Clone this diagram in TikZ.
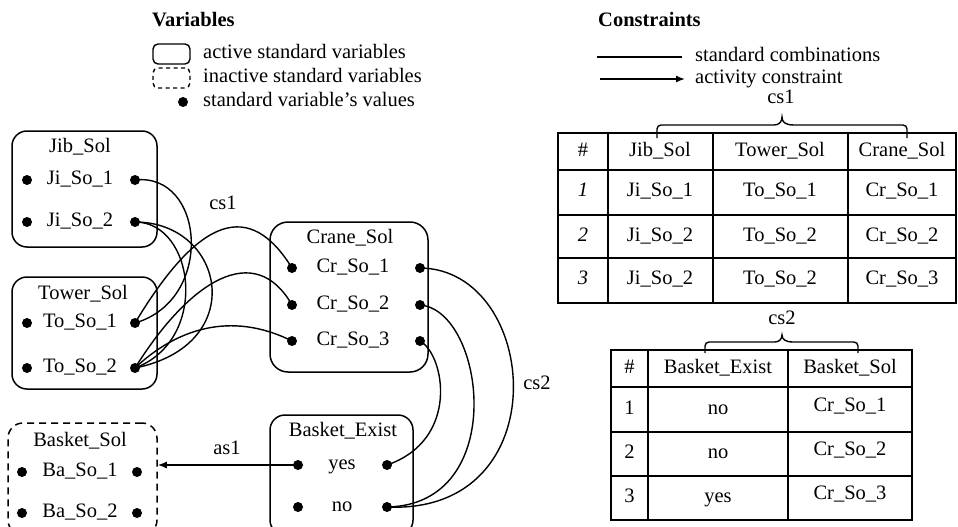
\documentclass[tikz,border=0pt]{standalone}
\usepackage{fontspec}
\setmainfont{Liberation Serif}
\usetikzlibrary{arrows.meta}
\begin{document}
\begin{tikzpicture}[x=1pt,y=-1pt,
  txt/.style={font=\fontsize{20.5}{24}\selectfont, inner sep=0pt, text height=14pt, text depth=5pt},
  hd/.style={txt, font=\fontsize{20.5}{24}\selectfont\bfseries},
  dot/.style={circle, fill=black, inner sep=0pt, minimum size=10pt},
  varbox/.style={draw, line width=1.5pt, rounded corners=15pt, inner sep=0pt},
  inbox/.style={varbox, dash pattern=on 7pt off 5pt},
  link/.style={line width=1.4pt},
  grid/.style={line width=1.6pt},
  bracepath/.style={line width=1.4pt},
  act/.style={line width=1.4pt, -{Latex[length=9pt,width=7pt]}},
]
\useasboundingbox (0,0) rectangle (958,527);

% ---------- legend: variables ----------
\node[hd, anchor=west] (hvar) at (152,22) {Variables};
\node[draw, line width=1.4pt, rounded corners=5pt, minimum width=37pt, minimum height=20pt, inner sep=0pt] (lgact) at (171.5,54) {};
\node[draw, line width=1.4pt, rounded corners=5pt, dash pattern=on 4pt off 3.5pt, minimum width=37pt, minimum height=20pt, inner sep=0pt] (lgin) at (171.5,78) {};
\node[dot] (lgdot) at (183,102) {};
\node[txt, anchor=west] (tact) at (203,54) {active standard variables};
\node[txt, anchor=west] (tin) at (203,78) {inactive standard variables};
\node[txt, anchor=west] (tval) at (203,102) {standard variable’s values};

% ---------- legend: constraints ----------
\node[hd, anchor=west] (hcon) at (598,22) {Constraints};
\coordinate (lsa) at (597,57);
\coordinate (lsb) at (682,57);
\draw[link] (lsa) -- (lsb);
\node[txt, anchor=west] (tstd) at (695,57) {standard combinations};
\coordinate (laa) at (600,79);
\coordinate (lab) at (685,79);
\draw[act] (laa) -- (lab);
\node[txt, anchor=west] (tactc) at (695,79) {activity constraint};

% ---------- variable boxes ----------
\node[varbox, minimum width=145pt, minimum height=116pt] (jib) at (84.5,189) {};
\node[txt] (jibt) at (80,148) {Jib\_Sol};
\node[dot] (j1l) at (27,180) {}; \node[txt] (j1t) at (80,180) {Ji\_So\_1}; \node[dot] (j1r) at (135,180) {};
\node[dot] (j2l) at (27,222) {}; \node[txt] (j2t) at (80,222) {Ji\_So\_2}; \node[dot] (j2r) at (135,222) {};

\node[varbox, minimum width=145pt, minimum height=112pt] (tow) at (84.5,333) {};
\node[txt] (towt) at (83,295) {Tower\_Sol};
\node[dot] (t1l) at (27,323) {}; \node[txt] (t1t) at (80,323) {To\_So\_1}; \node[dot] (t1r) at (135,323) {};
\node[dot] (t2l) at (27,368) {}; \node[txt] (t2t) at (80,368) {To\_So\_2}; \node[dot] (t2r) at (135,368) {};

\node[varbox, minimum width=158pt, minimum height=150pt, rounded corners=18pt] (cra) at (349,297) {};
\node[txt] (crat) at (350,239) {Crane\_Sol};
\node[dot] (c1l) at (292,268) {}; \node[txt] (c1t) at (353,268) {Cr\_So\_1}; \node[dot] (c1r) at (420,268) {};
\node[dot] (c2l) at (292,305) {}; \node[txt] (c2t) at (353,305) {Cr\_So\_2}; \node[dot] (c2r) at (420,305) {};
\node[dot] (c3l) at (292,341) {}; \node[txt] (c3t) at (353,341) {Cr\_So\_3}; \node[dot] (c3r) at (420,341) {};

\node[inbox, minimum width=149pt, minimum height=112pt] (bas) at (82.5,479) {};
\node[txt] (bast) at (80,442) {Basket\_Sol};
\node[dot] (b1l) at (22,472) {}; \node[txt] (b1t) at (80,472) {Ba\_So\_1}; \node[dot] (b1r) at (137,472) {};
\node[dot] (b2l) at (22,513) {}; \node[txt] (b2t) at (80,513) {Ba\_So\_2}; \node[dot] (b2r) at (137,513) {};

\node[varbox, minimum width=143pt, minimum height=120pt] (bex) at (341.5,475) {};
\node[txt] (bext) at (343,432) {Basket\_Exist};
\node[dot] (yl) at (298,465) {}; \node[txt] (yt) at (342,465) {yes}; \node[dot] (yr) at (387,465) {};
\node[dot] (nl) at (298,507) {}; \node[txt] (nt) at (342,507) {no}; \node[dot] (nr) at (387,507) {};

% ---------- standard combination links ----------
\draw[link] (j1r.center) .. controls (205,172) and (215,300) .. (t1r.center);
\draw[link] (t1r.center) .. controls (200,215) and (250,200) .. (c1l.center);
\draw[link] (j2r.center) .. controls (195,222) and (210,340) .. (t2r.center);
\draw[link] (j2r.center) .. controls (225,222) and (250,345) .. (t2r.center);
\draw[link] (t2r.center) .. controls (190,280) and (255,240) .. (c2l.center);
\draw[link] (t2r.center) .. controls (175,330) and (230,310) .. (c3l.center);
\node[txt] (lcs1) at (223,205) {cs1};

\draw[link] (c1r.center) .. controls (540,269) and (560,515) .. (nr.center);
\draw[link] (c2r.center) .. controls (485,310) and (510,505) .. (nr.center);
\draw[link] (c3r.center) .. controls (445,355) and (460,440) .. (yr.center);
\node[txt] (lcs2) at (537,385) {cs2};

% ---------- activity constraint ----------
\coordinate (asend) at (bas.east |- yl);
\draw[act] (yl.center) -- (asend);
\node[txt] (las1) at (227,450) {as1};

% ---------- table cs1 ----------
\node[txt] (tcs1) at (781,99) {cs1};
\draw[bracepath] (657,138) [rounded corners=4pt] -- (657,125) -- (770,125) [sharp corners]
   .. controls (779,125) and (782,122) .. (782,117) .. controls (782,122) and (785,125) .. (794,125)
   [rounded corners=4pt] -- (907,125) -- (907,138);
\draw[grid] (558,133) rectangle (956,303);
\foreach \yy in {170,215,258} \draw[grid] (558,\yy) -- (956,\yy);
\foreach \xx in {608,713,848} \draw[grid] (\xx,133) -- (\xx,303);
\node[txt] (a00) at (583,152) {\#};
\node[txt] (a01) at (660,152) {Jib\_Sol};
\node[txt] (a02) at (780,152) {Tower\_Sol};
\node[txt] (a03) at (902,152) {Crane\_Sol};
\node[txt] (a10) at (583,192) {\itshape 1};
\node[txt] (a11) at (660,192) {Ji\_So\_1};
\node[txt] (a12) at (780,192) {To\_So\_1};
\node[txt] (a13) at (902,192) {Cr\_So\_1};
\node[txt] (a20) at (583,237) {\itshape 2};
\node[txt] (a21) at (660,237) {Ji\_So\_2};
\node[txt] (a22) at (780,237) {To\_So\_2};
\node[txt] (a23) at (902,237) {Cr\_So\_2};
\node[txt] (a30) at (583,280) {\itshape 3};
\node[txt] (a31) at (660,280) {Ji\_So\_2};
\node[txt] (a32) at (780,280) {To\_So\_2};
\node[txt] (a33) at (902,280) {Cr\_So\_3};

% ---------- table cs2 ----------
\node[txt] (tcs2) at (782,320) {cs2};
\draw[bracepath] (705,353) [rounded corners=4pt] -- (705,342) -- (771,342) [sharp corners]
   .. controls (779,342) and (782,339) .. (782,335) .. controls (782,339) and (785,342) .. (793,342)
   [rounded corners=4pt] -- (858,342) -- (858,353);
\draw[grid] (611,350) rectangle (912,520);
\foreach \yy in {387,432,476} \draw[grid] (611,\yy) -- (912,\yy);
\foreach \xx in {648,788} \draw[grid] (\xx,350) -- (\xx,520);
\node[txt] (b00) at (629.5,369) {\#};
\node[txt] (b01) at (718,369) {Basket\_Exist};
\node[txt] (b02) at (850,369) {Basket\_Sol};
\node[txt] (b10) at (629.5,410) {1};
\node[txt] (b11) at (718,410) {no};
\node[txt] (b12) at (850,407) {Cr\_So\_1};
\node[txt] (b20) at (629.5,454) {2};
\node[txt] (b21) at (718,454) {no};
\node[txt] (b22) at (850,451) {Cr\_So\_2};
\node[txt] (b30) at (629.5,498) {3};
\node[txt] (b31) at (718,498) {yes};
\node[txt] (b32) at (850,495) {Cr\_So\_3};
\end{tikzpicture}
\end{document}
